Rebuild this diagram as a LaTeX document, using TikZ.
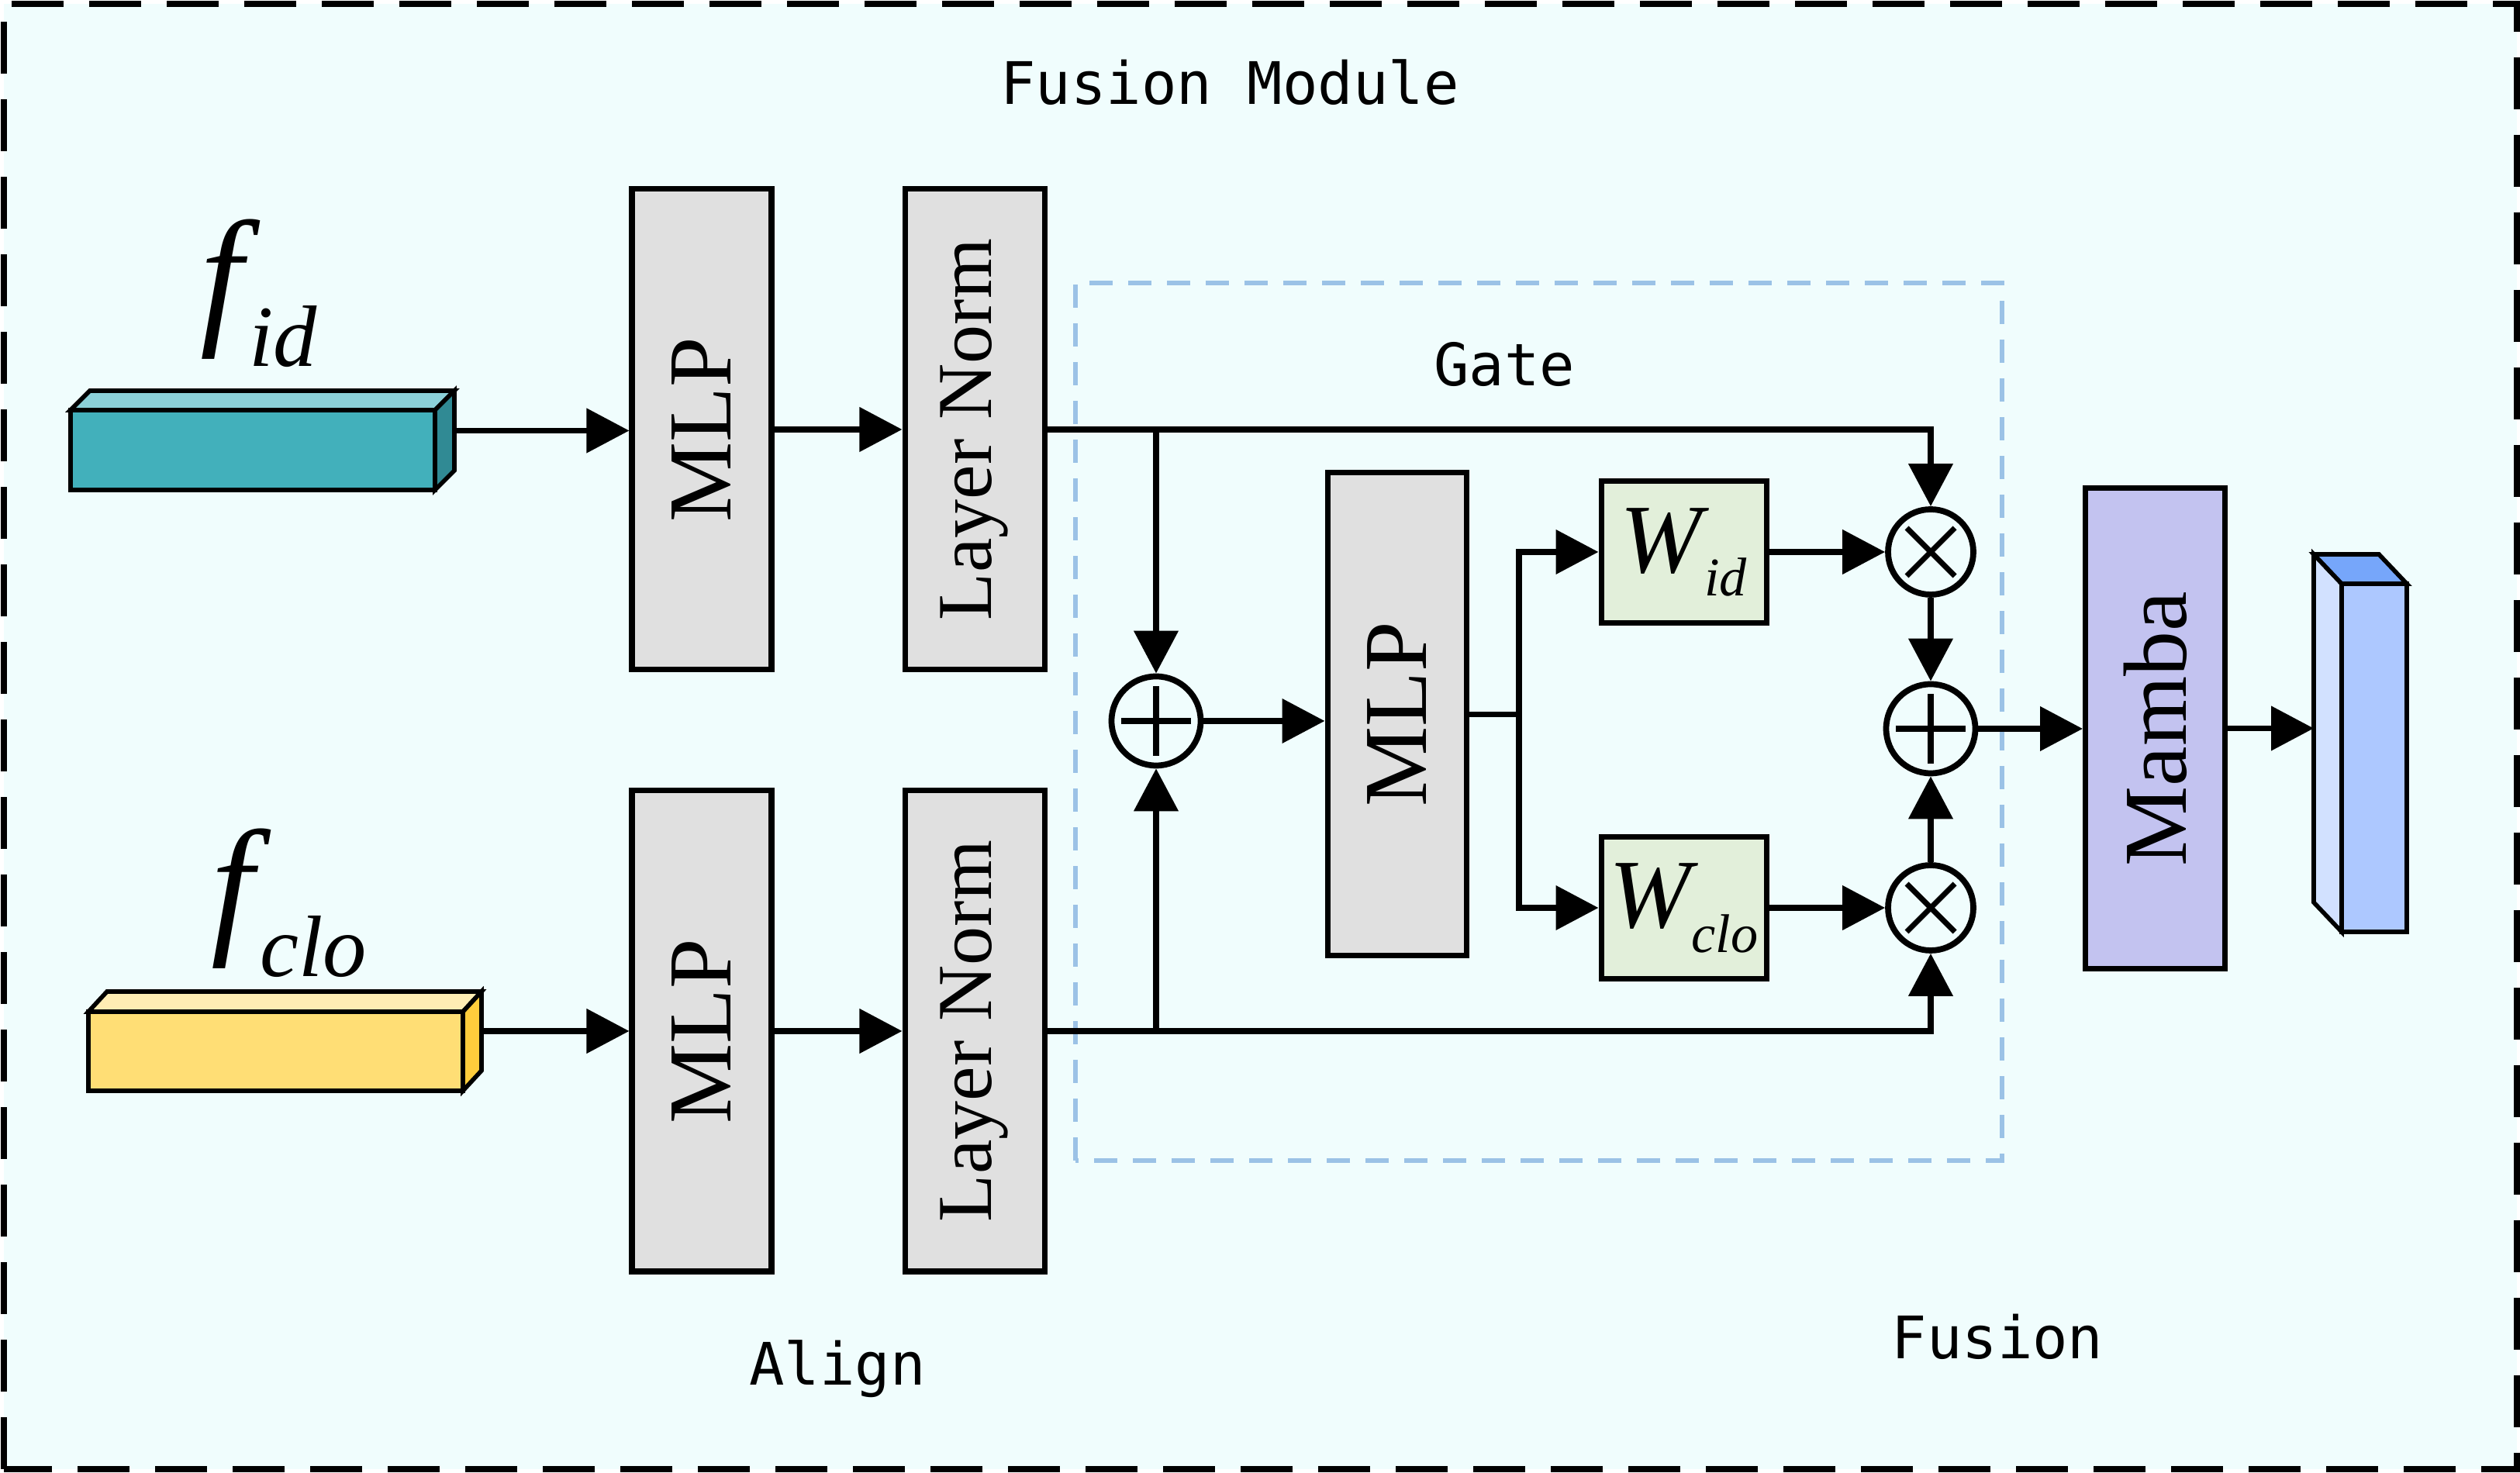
\documentclass[tikz,border=0pt]{standalone}
\usepackage{fontspec}
\usepackage{graphicx}
\setmainfont{Liberation Serif}
\newfontfamily\tagfont{DejaVu Sans Mono}
\usetikzlibrary{arrows.meta}

\definecolor{bgcyan}{RGB}{240,253,253}
\definecolor{boxgray}{RGB}{224,224,224}
\definecolor{wgreen}{RGB}{226,239,218}
\definecolor{mambapurple}{RGB}{195,195,240}
\definecolor{gateblue}{RGB}{155,194,230}
\definecolor{idfront}{RGB}{66,176,187}
\definecolor{idtop}{RGB}{139,208,216}
\definecolor{idside}{RGB}{48,138,148}
\definecolor{clofront}{RGB}{255,222,117}
\definecolor{clotop}{RGB}{255,237,180}
\definecolor{closide}{RGB}{255,205,60}
\definecolor{outfront}{RGB}{173,200,255}
\definecolor{outside}{RGB}{210,225,255}
\definecolor{outtop}{RGB}{118,166,250}

\tikzset{
  arr/.style={line width=2.2pt, -{Triangle[length=0.55cm, width=0.56cm]}},
  block/.style={draw, line width=2pt, fill=boxgray, minimum width=1.8cm, minimum height=6.2cm, inner sep=0pt, font=\fontsize{33}{36}\selectfont},
  wbox/.style={draw, line width=2pt, fill=wgreen, minimum width=2.13cm, minimum height=1.83cm, inner sep=0pt, font=\fontsize{36}{38}\selectfont\itshape},
  addop/.style={circle, draw, line width=2.2pt, minimum size=1.15cm, inner sep=0pt,
    path picture={\draw[line width=2.2pt] ([xshift=-0.45cm]path picture bounding box.center) -- ([xshift=0.45cm]path picture bounding box.center)
      ([yshift=-0.45cm]path picture bounding box.center) -- ([yshift=0.45cm]path picture bounding box.center);}},
  mulop/.style={circle, draw, line width=2.2pt, minimum size=1.1cm, inner sep=0pt,
    path picture={\draw[line width=2pt] ([shift={(-0.31,-0.31)}]path picture bounding box.center) -- ([shift={(0.31,0.31)}]path picture bounding box.center)
      ([shift={(-0.31,0.31)}]path picture bounding box.center) -- ([shift={(0.31,-0.31)}]path picture bounding box.center);}},
  cubeface/.style={draw, line width=1.6pt, inner sep=0pt, outer sep=0pt},
  cubeedge/.style={draw, line width=1.6pt},
  tag/.style={font=\tagfont\fontsize{21.5}{24}\selectfont},
  modframe/.style={draw, fill=bgcyan, line width=0.075cm, dash pattern=on 0.67cm off 0.33cm},
  gateframe/.style={draw=gateblue, line width=1.6pt, dash pattern=on 0.3cm off 0.2cm}
}

\begin{document}
\begin{tikzpicture}[x=1cm, y=1cm]
    % page and outer dashed frame
    \useasboundingbox (0,0) rectangle (32.5,19);
    \draw[modframe] (0.05,0.05) rectangle (32.46,18.95);

    % section titles
    \node[tag, anchor=base] (title) at (15.86,17.65) {Fusion Module};
    \node[tag, anchor=base] (gatetag) at (19.40,14.02) {Gate};
    \node[tag, anchor=base] (aligntag) at (10.80,1.13) {Align};
    \node[tag, anchor=base] (fusiontag) at (25.76,1.47) {Fusion};

    % gate frame (light blue, dashed)
    \draw[gateframe] (13.87,4.03) rectangle (25.82,15.35);

    % input feature f_id
    \node[cubeface, fill=idfront, minimum width=4.7cm, minimum height=1.03cm] (fid) at (3.26,13.195) {};
    \draw[cubeedge, fill=idtop] (fid.north west) -- ++(0.25,0.25) -- ([shift={(0.25,0.25)}]fid.north east) -- (fid.north east) -- cycle;
    \draw[cubeedge, fill=idside] (fid.north east) -- ++(0.25,0.25) -- ([shift={(0.25,0.25)}]fid.south east) -- (fid.south east) -- cycle;
    \coordinate (fidout) at ([shift={(0.25,0.25)}]fid.east);
    \node[anchor=base west, inner sep=0pt, font=\fontsize{56}{60}\selectfont\itshape] (fidtag) at (2.58,14.78) {f\kern0.08cm\raisebox{-0.51cm}{\fontsize{32}{34}\selectfont id}};

    % input feature f_clo
    \node[cubeface, fill=clofront, minimum width=4.83cm, minimum height=1.02cm] (fclo) at (3.555,5.44) {};
    \draw[cubeedge, fill=clotop] (fclo.north west) -- ++(0.24,0.26) -- ([shift={(0.24,0.26)}]fclo.north east) -- (fclo.north east) -- cycle;
    \draw[cubeedge, fill=closide] (fclo.north east) -- ++(0.24,0.26) -- ([shift={(0.24,0.26)}]fclo.south east) -- (fclo.south east) -- cycle;
    \coordinate (fcloout) at ([shift={(0.24,0.26)}]fclo.east);
    \node[anchor=base west, inner sep=0pt, font=\fontsize{56}{60}\selectfont\itshape] (fclotag) at (2.72,6.92) {f\kern0.08cm\raisebox{-0.52cm}{\fontsize{32}{34}\selectfont clo}};

    % align blocks
    \node[block] (mlpid) at (9.05,13.46) {\rotatebox{90}{MLP}};
    \node[block, font=\fontsize{28.5}{30}\selectfont] (lnid) at (12.57,13.46) {\rotatebox{90}{Layer Norm}};
    \node[block] (mlpclo) at (9.05,5.70) {\rotatebox{90}{MLP}};
    \node[block, font=\fontsize{28.5}{30}\selectfont] (lnclo) at (12.57,5.70) {\rotatebox{90}{Layer Norm}};

    % gate
    \node[addop] (adda) at (14.91,9.70) {};
    \node[block, minimum width=1.79cm, minimum height=6.23cm] (mlpgate) at (18.015,9.785) {\rotatebox{90}{MLP}};
    \coordinate (split) at (19.59,9.785);
    \node[wbox] (wid) at (21.715,11.88) {W\kern0.03cm\raisebox{-0.3cm}{\fontsize{20}{22}\selectfont id}};
    \node[wbox] (wclo) at (21.715,7.29) {W\raisebox{-0.32cm}{\fontsize{20}{22}\selectfont clo}};
    \node[mulop] (mula) at (24.90,11.88) {};
    \node[addop] (addb) at (24.90,9.60) {};
    \node[mulop] (mulb) at (24.90,7.29) {};

    % fusion
    \node[block, fill=mambapurple] (mamba) at (27.795,9.60) {\rotatebox{90}{Mamba}};

    % fused output feature
    \node[cubeface, fill=outfront, minimum width=0.84cm, minimum height=4.49cm] (fout) at (30.62,9.225) {};
    \draw[cubeedge, fill=outside] (fout.north west) -- ++(-0.36,0.38) -- ([shift={(-0.36,0.38)}]fout.south west) -- (fout.south west) -- cycle;
    \draw[cubeedge, fill=outtop] (fout.north west) -- ++(-0.36,0.38) -- ([shift={(-0.36,0.38)}]fout.north east) -- (fout.north east) -- cycle;
    \coordinate (foutin) at ([shift={(-0.36,0.38)}]fout.west);

    % connectors
    \draw[arr] (fidout) -- (fidout -| mlpid.west);
    \draw[arr] (mlpid) -- (lnid);
    \draw[arr] (fcloout) -- (fcloout -| mlpclo.west);
    \draw[arr] (mlpclo) -- (lnclo);
    \draw[arr] (lnid.east) -| (mula.north);
    \draw[arr] (lnclo.east) -| (mulb.south);
    \draw[arr] (adda |- lnid.east) -- (adda.north);
    \draw[arr] (adda |- lnclo.east) -- (adda.south);
    \draw[arr] (adda.east) -- (adda.east -| mlpgate.west);
    \draw[line width=2.2pt] (mlpgate.east |- split) -- (split);
    \draw[arr] (split) |- (wid.west);
    \draw[arr] (split) |- (wclo.west);
    \draw[arr] (wid) -- (mula);
    \draw[arr] (wclo) -- (mulb);
    \draw[arr] (mula) -- (addb);
    \draw[arr] (mulb) -- (addb);
    \draw[arr] (addb) -- (mamba);
    \draw[arr] (mamba.east |- foutin) -- (foutin);

\end{tikzpicture}
\end{document}
